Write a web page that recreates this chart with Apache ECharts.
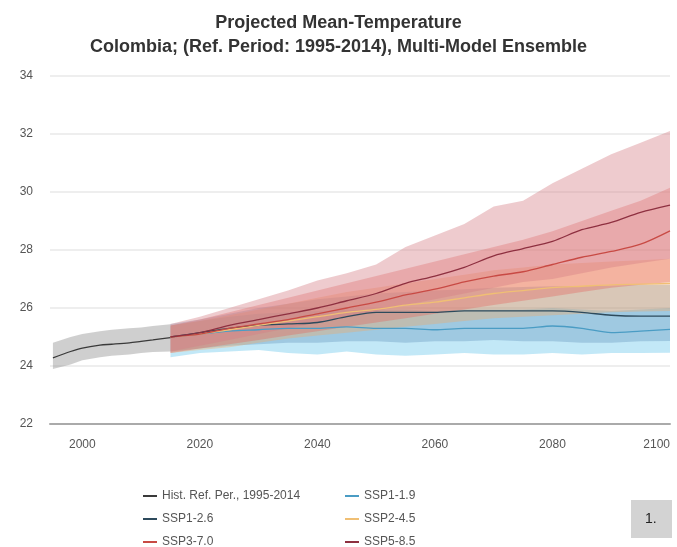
<!DOCTYPE html>
<html>
<head>
<meta charset="utf-8">
<script src="https://cdn.jsdelivr.net/npm/echarts@6/dist/echarts.min.js"></script>
<style>html,body{margin:0;padding:0;background:#fff;}#c{width:677px;height:547px;}</style>
</head>
<body>
<div id="c"></div>
<script>
// ---- data ----
var histYears = [1995, 1998, 2000, 2003, 2005, 2008, 2010, 2012, 2015];
var histMean  = [24.28, 24.5, 24.62, 24.72, 24.75, 24.8, 24.85, 24.9, 24.98];
var histHigh  = [24.8, 25.0, 25.1, 25.2, 25.25, 25.3, 25.33, 25.38, 25.44];
var histLow   = [23.9, 24.05, 24.2, 24.3, 24.35, 24.4, 24.45, 24.48, 24.5];

var projYears = [2015,2020,2025,2030,2035,2040,2045,2050,2055,2060,2065,2070,2075,2080,2085,2090,2095,2100];

var ssp119Mean = [25.0,25.1,25.2,25.25,25.3,25.3,25.35,25.3,25.3,25.25,25.3,25.3,25.3,25.38,25.3,25.15,25.2,25.26];
var ssp119High = [25.4,25.55,25.7,25.8,25.85,25.9,25.95,25.95,25.95,25.9,25.95,25.95,25.95,26.0,25.95,25.9,25.95,26.0];
var ssp119Low  = [24.3,24.45,24.5,24.55,24.45,24.4,24.5,24.4,24.35,24.4,24.45,24.4,24.4,24.45,24.4,24.45,24.45,24.46];

var ssp126Mean = [25.0,25.15,25.3,25.4,25.45,25.5,25.7,25.85,25.85,25.85,25.9,25.9,25.9,25.9,25.85,25.75,25.72,25.72];
var ssp126High = [25.45,25.6,25.8,26.0,26.15,26.3,26.4,26.5,26.55,26.6,26.65,26.7,26.72,26.75,26.75,26.78,26.8,26.8];
var ssp126Low  = [24.5,24.6,24.7,24.75,24.8,24.8,24.85,24.85,24.8,24.85,24.85,24.9,24.85,24.85,24.8,24.8,24.85,24.86];

var ssp245Mean = [25.0,25.1,25.25,25.4,25.55,25.7,25.85,25.95,26.1,26.2,26.35,26.5,26.6,26.7,26.75,26.8,26.82,26.85];
var ssp245High = [25.4,25.55,25.75,25.95,26.15,26.35,26.55,26.7,26.85,27.0,27.15,27.3,27.4,27.5,27.55,27.6,27.65,27.7];
var ssp245Low  = [24.45,24.55,24.65,24.8,24.95,25.05,25.15,25.25,25.35,25.45,25.55,25.65,25.7,25.75,25.8,25.85,25.88,25.9];

var ssp370Mean = [25.0,25.1,25.3,25.45,25.6,25.8,26.0,26.2,26.45,26.65,26.9,27.1,27.25,27.5,27.75,27.95,28.2,28.66];
var ssp370High = [25.4,25.6,25.85,26.1,26.35,26.6,26.85,27.1,27.35,27.6,27.85,28.1,28.35,28.65,29.0,29.35,29.7,30.15];
var ssp370Low  = [24.45,24.6,24.75,24.9,25.05,25.2,25.35,25.5,25.65,25.8,25.95,26.1,26.25,26.4,26.55,26.7,26.8,26.9];

var ssp585Mean = [25.0,25.15,25.4,25.6,25.8,26.0,26.25,26.5,26.85,27.1,27.4,27.8,28.05,28.3,28.7,28.95,29.3,29.55];
var ssp585High = [25.45,25.7,26.0,26.3,26.6,26.95,27.2,27.5,28.1,28.5,28.9,29.5,29.7,30.3,30.8,31.3,31.7,32.1];
var ssp585Low  = [24.5,24.7,24.9,25.1,25.3,25.5,25.7,25.9,26.1,26.3,26.5,26.7,26.9,27.0,27.2,27.4,27.55,27.7];

var xTicks = [2000, 2020, 2040, 2060, 2080, 2100];
var legendCol1 = ['Hist. Ref. Per., 1995-2014', 'SSP1-2.6', 'SSP3-7.0'];
var legendCol2 = ['SSP1-1.9', 'SSP2-4.5', 'SSP5-8.5'];

// ---- helpers ----
function pairs(xs, ys) { return xs.map(function (x, i) { return [x, ys[i]]; }); }
function bandSeries(xs, lo, hi, color) {
  return {
    type: 'custom', silent: true, clip: true, z: 1, data: [0],
    renderItem: function (params, api) {
      var pts = [];
      for (var i = 0; i < xs.length; i++) pts.push(api.coord([xs[i], hi[i]]));
      for (var j = xs.length - 1; j >= 0; j--) pts.push(api.coord([xs[j], lo[j]]));
      return { type: 'polygon', shape: { points: pts }, style: { fill: color } };
    }
  };
}
function lineSeries(name, xs, ys, color, w) {
  return {
    name: name, type: 'line', data: pairs(xs, ys), showSymbol: false, smooth: 0.3,
    lineStyle: { color: color, width: w || 1.3 }, itemStyle: { color: color }, z: 5
  };
}
var FF = 'Liberation Sans, Arial, sans-serif';
function legendItem(name, left, top) {
  return { data: [name], left: left, top: top, itemWidth: 14, itemHeight: 2, icon: 'rect',
    textStyle: { fontFamily: FF, fontSize: 12, color: '#555' }, selectedMode: false };
}

var cHist = '#3a3a3a', c119 = '#4a9cc4', c126 = '#2d4a5c', c245 = '#f0bf74', c370 = '#c84a44', c585 = '#8e3040';
var rowTops = [485, 508, 531];
var legends = [];
legendCol1.forEach(function (n, i) { legends.push(legendItem(n, 138, rowTops[i])); });
legendCol2.forEach(function (n, i) { legends.push(legendItem(n, 340, rowTops[i])); });

var option = {
  backgroundColor: '#fff',
  animation: false,
  title: {
    text: 'Projected Mean-Temperature\nColombia; (Ref. Period: 1995-2014), Multi-Model Ensemble',
    left: 'center', top: 6,
    textStyle: { fontFamily: FF, fontSize: 18, fontWeight: 'bold', color: '#333', lineHeight: 24 }
  },
  legend: legends,
  grid: { left: 50, right: 7, top: 76, bottom: 123 },
  xAxis: {
    type: 'value', min: 1994.5, max: 2100,
    axisLine: { lineStyle: { color: '#aaa', width: 2 } },
    axisTick: { show: false },
    splitLine: { show: false },
    axisLabel: { customValues: xTicks, color: '#555', fontSize: 12, margin: 15, alignMaxLabel: 'right',
      fontFamily: FF, formatter: function (v) { return String(v); } }
  },
  yAxis: {
    type: 'value', min: 22, max: 34, interval: 2,
    axisLine: { show: false }, axisTick: { show: false },
    splitLine: { lineStyle: { color: '#e8e8e8', width: 1.5 } },
    axisLabel: { color: '#555', fontSize: 12, margin: 17, fontFamily: FF }
  },
  graphic: [
    { type: 'rect', left: 631, top: 500, shape: { width: 41, height: 38 }, style: { fill: '#d3d3d3' } },
    { type: 'text', left: 645, top: 512, style: { text: '1.', fontSize: 14, fill: '#222', fontFamily: FF } }
  ],
  series: [
    bandSeries(histYears, histLow, histHigh, 'rgba(140,140,140,0.42)'),
    bandSeries(projYears, ssp119Low, ssp119High, 'rgba(110,200,235,0.42)'),
    bandSeries(projYears, ssp126Low, ssp126High, 'rgba(80,130,175,0.30)'),
    bandSeries(projYears, ssp245Low, ssp245High, 'rgba(245,165,95,0.35)'),
    bandSeries(projYears, ssp370Low, ssp370High, 'rgba(228,95,90,0.35)'),
    bandSeries(projYears, ssp585Low, ssp585High, 'rgba(213,124,133,0.40)'),
    lineSeries('Hist. Ref. Per., 1995-2014', histYears, histMean, cHist),
    lineSeries('SSP1-1.9', projYears, ssp119Mean, c119),
    lineSeries('SSP1-2.6', projYears, ssp126Mean, c126),
    lineSeries('SSP2-4.5', projYears, ssp245Mean, c245),
    lineSeries('SSP3-7.0', projYears, ssp370Mean, c370),
    lineSeries('SSP5-8.5', projYears, ssp585Mean, c585)
  ]
};
var chart = echarts.init(document.getElementById('c'), null, { renderer: 'canvas' });
chart.setOption(option);
</script>
</body>
</html>
